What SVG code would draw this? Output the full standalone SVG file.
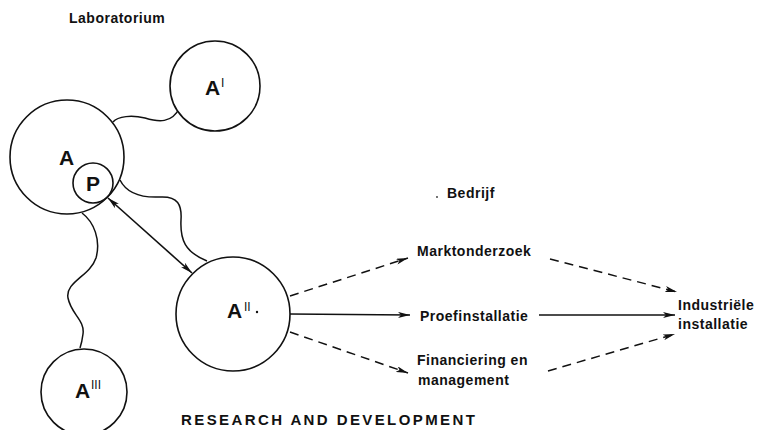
<svg xmlns="http://www.w3.org/2000/svg" width="758" height="430" viewBox="0 0 758 430">
  <defs>
    <marker id="head" viewBox="0 0 12 6" refX="12" refY="3" markerWidth="12" markerHeight="6" markerUnits="userSpaceOnUse" orient="auto-start-reverse">
      <path d="M0,0 L12,3 L0,6 L3,3 Z" fill="#111"/>
    </marker>
    <style>
      .ring { fill: #fff; stroke: #111; stroke-width: 1.6; }
      .wave { fill: none; stroke: #111; stroke-width: 1.5; }
      .solid { fill: none; stroke: #111; stroke-width: 1.6; }
      .dash { fill: none; stroke: #111; stroke-width: 1.5; stroke-dasharray: 9 6; }
      .lbl { font-family: "Liberation Sans", Arial, sans-serif; font-weight: bold; font-size: 14px; letter-spacing: 0.5px; fill: #111; }
      .big { font-family: "Liberation Sans", Arial, sans-serif; font-weight: bold; font-size: 21px; fill: #111; }
      .sup { font-family: "Liberation Sans", Arial, sans-serif; font-size: 12px; fill: #111; }
      .title { font-family: "Liberation Sans", Arial, sans-serif; font-weight: bold; font-size: 15px; letter-spacing: 2.4px; fill: #111; }
    </style>
  </defs>

  <rect width="758" height="430" fill="#fff"/>

  <!-- connectors -->
  <g id="connectors">
    <!-- wavy links between lab circles -->
    <path class="wave" d="M113,122 C118,116 132,115 145,118 C158,122 172,124 180,107"/>
    <path class="wave" d="M120,180 C126,192 140,198 160,197 C178,196 182,205 181,220 C180,240 185,252 207,261"/>
    <path class="wave" d="M82,213 C94,222 101,240 96,258 C90,276 65,282 68,298 C71,314 85,320 83,334 C82,342 81,345 80,348"/>
    <!-- two-way arrow P <-> A'' -->
    <line class="solid" x1="108" y1="198" x2="192" y2="273" marker-start="url(#head)" marker-end="url(#head)"/>
    <!-- from A'' to company activities -->
    <line class="dash" x1="290" y1="296" x2="408" y2="258" marker-end="url(#head)"/>
    <line class="solid" x1="290" y1="314" x2="410" y2="315" stroke-width="2" marker-end="url(#head)"/>
    <line class="dash" x1="290" y1="332" x2="408" y2="373" marker-end="url(#head)"/>
    <!-- to industrial plant -->
    <line class="dash" x1="550" y1="259" x2="677" y2="292" marker-end="url(#head)"/>
    <line class="solid" x1="539" y1="315" x2="675" y2="315" marker-end="url(#head)"/>
    <line class="dash" x1="548" y1="371" x2="675" y2="334" marker-end="url(#head)"/>
  </g>

  <text class="lbl" x="69" y="23" font-size="14.5">Laboratorium</text>

  <g id="nodeA">
    <circle class="ring" cx="67" cy="157" r="57"/>
    <text class="big" x="59" y="165">A</text>
  </g>
  <g id="nodeP">
    <circle class="ring" cx="93" cy="183" r="20"/>
    <text class="big" x="86" y="191">P</text>
  </g>
  <g id="nodeA1">
    <circle class="ring" cx="215" cy="86" r="45"/>
    <text class="big" x="205" y="95">A</text>
    <text class="sup" x="221" y="87">I</text>
  </g>
  <g id="nodeA2">
    <circle class="ring" cx="233" cy="314" r="57"/>
    <text class="big" x="227" y="318">A</text>
    <text class="sup" x="244" y="311">II</text>
    <circle cx="257" cy="312" r="1.2" fill="#111"/>
  </g>
  <g id="nodeA3">
    <circle class="ring" cx="84" cy="392" r="43"/>
    <text class="big" x="75" y="398">A</text>
    <text class="sup" x="91" y="389">III</text>
  </g>

  <circle cx="437" cy="197" r="0.9" fill="#333"/>
  <text class="lbl" x="447" y="198">Bedrijf</text>

  <g id="market">
    <text class="lbl" x="417" y="256">Marktonderzoek</text>
  </g>
  <g id="pilot">
    <text class="lbl" x="420" y="321">Proefinstallatie</text>
  </g>
  <g id="finance">
    <text class="lbl" x="417" y="365">Financiering en</text>
    <text class="lbl" x="418" y="385">management</text>
  </g>
  <g id="plant">
    <text class="lbl" x="678" y="310">Industriële</text>
    <text class="lbl" x="678" y="329">installatie</text>
  </g>

  <text class="title" x="181" y="425">RESEARCH AND DEVELOPMENT</text>
</svg>
